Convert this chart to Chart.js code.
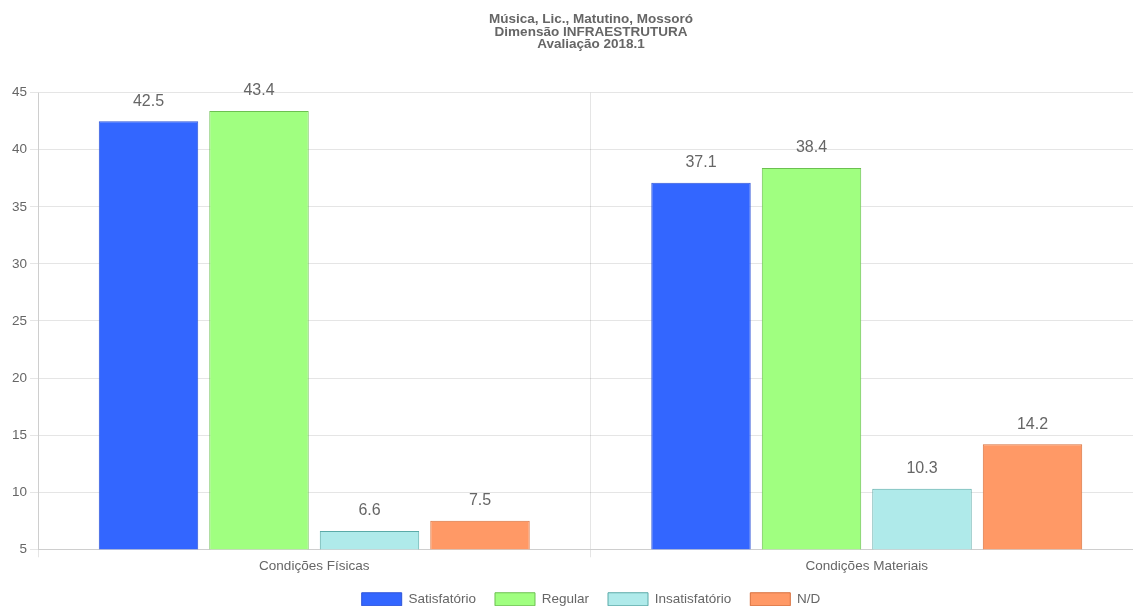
<!DOCTYPE html>
<html>
<head>
<meta charset="utf-8">
<script src="https://cdn.jsdelivr.net/npm/chart.js@4/dist/chart.umd.min.js"></script>
<style>
html,body{margin:0;padding:0;overflow:hidden;background:#fff;width:1133px;height:606px;}
#wrap{position:relative;width:1133px;height:606px;overflow:hidden;}
#c{position:absolute;left:0;top:0;display:block;}
</style>
</head>
<body>
<div id="wrap"><canvas id="c" width="1182" height="616" style="width:1182px;height:616px"></canvas></div>
<script>
const titleLines = ["Música, Lic., Matutino, Mossoró", "Dimensão INFRAESTRUTURA", "Avaliação 2018.1"];
const categories = ["Condições Físicas", "Condições Materiais"];
const seriesNames = ["Satisfatório", "Regular", "Insatisfatório", "N/D"];
const satisfatorio = [42.5, 37.1];
const regular = [43.4, 38.4];
const insatisfatorio = [6.6, 10.3];
const nd = [7.5, 14.2];
const yTicks = {min: 5, max: 45, step: 5};

const fills = ["#3366ff", "#a0ff80", "#afeaea", "#ff9966"];
const borders = ["#2f55d8", "#6cc050", "#5aaaa8", "#d8703c"];
const values = [satisfatorio, regular, insatisfatorio, nd];

const FONT = "'Liberation Sans', Arial, Helvetica, sans-serif";
Chart.defaults.font.family = FONT;
Chart.defaults.font.size = 13.5;
Chart.defaults.color = "#666";

const valueLabels = {
  id: 'valueLabels',
  afterDatasetsDraw(chart) {
    const ctx = chart.ctx;
    ctx.save();
    ctx.font = "16px " + FONT;
    ctx.fillStyle = "#666";
    ctx.textAlign = "center";
    ctx.textBaseline = "middle";
    chart.data.datasets.forEach((ds, i) => {
      const meta = chart.getDatasetMeta(i);
      meta.data.forEach((bar, j) => {
        ctx.fillText(String(ds.data[j]), bar.x, bar.y - 20);
      });
    });
    ctx.restore();
  }
};

new Chart(document.getElementById('c'), {
  type: 'bar',
  data: {
    labels: categories,
    datasets: seriesNames.map((n, i) => ({
      label: n,
      data: values[i],
      backgroundColor: fills[i],
      borderColor: borders[i],
      borderWidth: 1,
      yAxisID: 'y'
    }))
  },
  options: {
    responsive: false,
    maintainAspectRatio: false,
    devicePixelRatio: 1,
    animation: false,
    layout: {padding: 0},
    plugins: {
      title: {
        display: true,
        text: titleLines,
        font: {size: 13.5, weight: 'bold', lineHeight: 0.93},
        color: '#666',
        padding: {top: 13, bottom: 42}
      },
      legend: {
        position: 'bottom',
        labels: {boxWidth: 40, boxHeight: 13, color: '#666', padding: 19}
      },
      tooltip: {enabled: false}
    },
    scales: {
      x: {
        grid: {color: 'rgba(0,0,0,0.1)'},
        ticks: {color: '#666', padding: 1},
        afterFit(scale) { scale.height -= 2; }
      },
      y: {
        min: yTicks.min,
        max: yTicks.max,
        ticks: {stepSize: yTicks.step, color: '#666'},
        grid: {color: 'rgba(0,0,0,0.1)'},
        afterFit(scale) { scale.width = 38; }
      },
      yR: {
        type: 'linear',
        axis: 'y',
        position: 'right',
        min: yTicks.min,
        max: yTicks.max,
        grid: {drawOnChartArea: false, drawTicks: false},
        border: {display: false},
        ticks: {display: false},
        afterFit(scale) { scale.width = 39; }
      }
    }
  },
  plugins: [valueLabels]
});
</script>
</body>
</html>
